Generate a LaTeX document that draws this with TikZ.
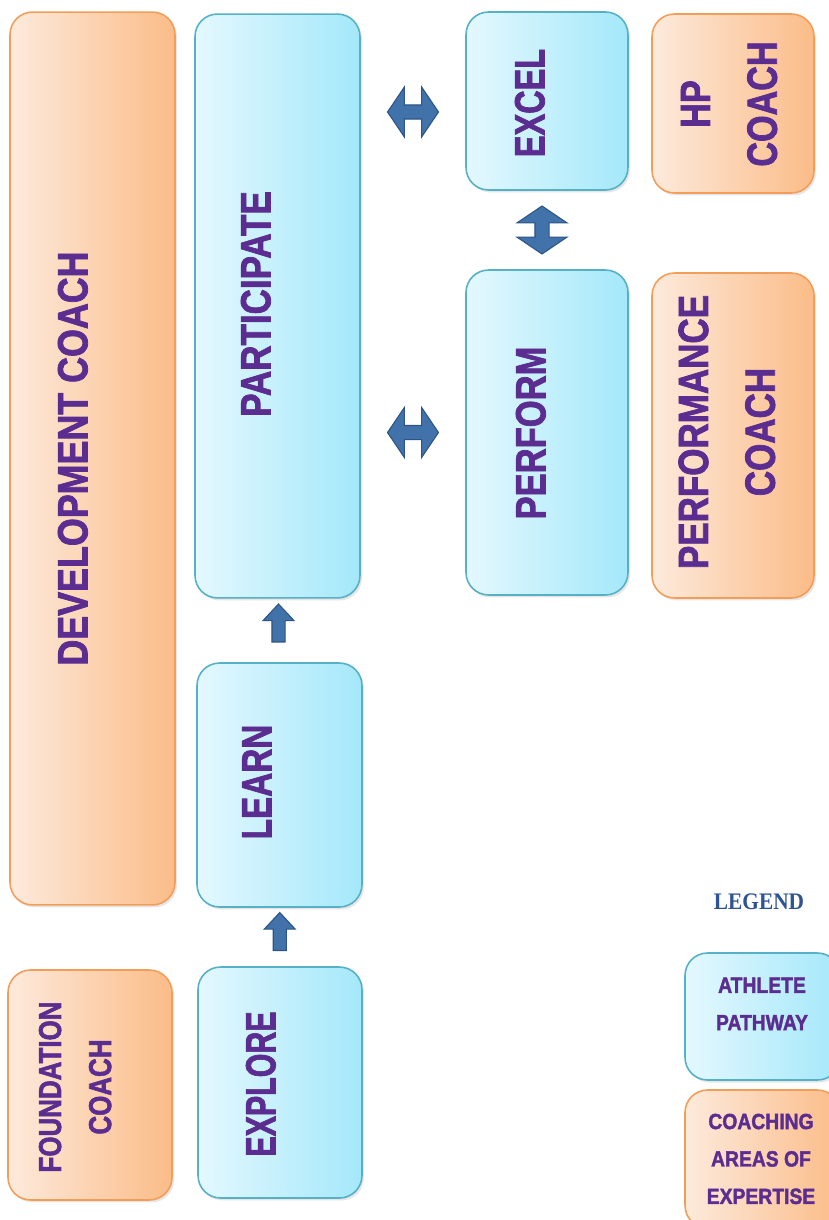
\documentclass[tikz,border=0pt]{standalone}
\usepackage{fontspec}
\usepackage{graphicx}
\newfontfamily\pathfont{Liberation Sans}[BoldFeatures={FakeBold=2}]
\newfontfamily\legfont{Liberation Serif}
\usetikzlibrary{calc,shapes.arrows,shadows}
\definecolor{txtpurple}{RGB}{92,45,145}
\definecolor{bluelight}{RGB}{228,248,254}
\definecolor{bluedark}{RGB}{164,232,250}
\definecolor{blueedge}{RGB}{86,176,198}
\definecolor{orangelight}{RGB}{253,234,220}
\definecolor{orangedark}{RGB}{251,188,136}
\definecolor{orangeedge}{RGB}{243,158,88}
\definecolor{arrowblue}{RGB}{66,114,170}
\definecolor{arrowedge}{RGB}{44,84,134}
\definecolor{legendblue}{RGB}{47,84,150}
\newcommand{\boxlabel}[2]{\scalebox{#1}[1]{\begin{tabular}{@{}c@{}}#2\end{tabular}}}
\tikzset{
  shadowed/.style={drop shadow={shadow xshift=0.04cm,shadow yshift=-0.05cm,opacity=0.2}},
  pathbox/.style={rounded corners=0.45cm, draw=blueedge, line width=0.9pt,
    left color=bluelight, right color=bluedark, shadowed},
  coachbox/.style={rounded corners=0.45cm, draw=orangeedge, line width=0.9pt,
    left color=orangelight, right color=orangedark, shadowed},
  boxtext/.style={rotate=90, text=txtpurple, inner sep=0pt,
    font=\pathfont\bfseries\fontsize{24}{38}\selectfont},
  smalltext/.style={boxtext, font=\pathfont\bfseries\fontsize{18}{28.5}\selectfont},
  legtext/.style={text=txtpurple, inner sep=0pt,
    font=\pathfont\bfseries\fontsize{12.5}{21.3}\selectfont},
  blockarrow/.style={fill=arrowblue, draw=arrowedge, line width=0.6pt, inner xsep=0pt},
  sidearrow/.style={blockarrow, double arrow, minimum height=1.02cm, inner ysep=0.13cm,
    double arrow head extend=0.36cm, double arrow head indent=0pt, double arrow tip angle=112},
  uparrow/.style={blockarrow, single arrow, rotate=90, minimum height=0.76cm, inner ysep=0.12cm,
    single arrow head extend=0.18cm, single arrow head indent=0pt, single arrow tip angle=86}
}
\begin{document}
\begin{tikzpicture}[x=0.02cm,y=-0.02cm]
    \useasboundingbox (0,0) rectangle (828,1220);

    % coaching areas
    \node[coachbox, minimum width=3.3cm, minimum height=17.86cm] (dev) at (92.5,458.5) {};
    \node[coachbox, minimum width=3.24cm, minimum height=3.58cm] (hp) at (733,103.5) {};
    \node[coachbox, minimum width=3.24cm, minimum height=6.5cm] (perfcoach) at (733,435.5) {};
    \node[coachbox, minimum width=3.28cm, minimum height=4.6cm] (found) at (90,1085) {};

    % athlete pathway
    \node[pathbox, minimum width=3.3cm, minimum height=11.68cm] (participate) at (277.5,306) {};
    \node[pathbox, minimum width=3.24cm, minimum height=3.56cm] (excel) at (547,101) {};
    \node[pathbox, minimum width=3.24cm, minimum height=6.5cm] (perform) at (547,432.5) {};
    \node[pathbox, minimum width=3.3cm, minimum height=4.88cm] (learn) at (279.5,785) {};
    \node[pathbox, minimum width=3.28cm, minimum height=4.62cm] (explore) at (280,1082.5) {};

    \node[boxtext] (devtxt) at (74,458.5) {\boxlabel{0.85}{DEVELOPMENT COACH}};
    \node[boxtext] (hptxt) at (730,104) {\boxlabel{0.81}{HP\\COACH}};
    \node[boxtext] (perfcoachtxt) at (728,432) {\boxlabel{0.83}{PERFORMANCE\\COACH}};
    \node[smalltext] (foundtxt) at (76,1087) {\boxlabel{0.82}{FOUNDATION\\COACH}};
    \node[boxtext] (participatetxt) at (257,304) {\boxlabel{0.83}{PARTICIPATE}};
    \node[boxtext] (exceltxt) at (531,103) {\boxlabel{0.77}{EXCEL}};
    \node[boxtext] (performtxt) at (532,433) {\boxlabel{0.82}{PERFORM}};
    \node[boxtext] (learntxt) at (258,782) {\boxlabel{0.79}{LEARN}};
    \node[boxtext] (exploretxt) at (262,1084) {\boxlabel{0.72}{EXPLORE}};

    % arrows between stages
    \node[sidearrow] (arrowtop) at ($(participate.east |- excel.west)!0.5!(excel.west)+(0,11)$) {};
    \node[sidearrow] (arrowmid) at ($(participate.east |- perform.west)!0.5!(perform.west)$) {};
    \node[sidearrow, rotate=90, minimum height=0.96cm] (arrowright) at ($(excel.south)!0.5!(perform.north)+(-5,0)$) {};
    \node[uparrow] (arrowup) at ($(participate.south)!0.5!(learn.north)+(0,-4)$) {};
    \node[uparrow] (arrowlow) at ($(learn.south)!0.5!(explore.north)+(0,-2)$) {};

    % legend
    \node[text=legendblue, inner sep=0pt, font=\legfont\bfseries\fontsize{13.5}{16}\selectfont] (legend) at (759,902) {\scalebox{0.9}[1]{LEGEND}};
    \node[pathbox, minimum width=3.1cm, minimum height=2.54cm] (legpath) at (762.5,1016.5) {};
    \node[coachbox, minimum width=3.1cm, minimum height=2.76cm] (legcoach) at (762.5,1159) {};
    \node[legtext] (legpathtxt) at (762,1004) {\boxlabel{0.88}{ATHLETE\\PATHWAY}};
    \node[legtext] (legcoachtxt) at (761,1159) {\boxlabel{0.88}{COACHING\\AREAS OF\\EXPERTISE}};
\end{tikzpicture}
\end{document}
